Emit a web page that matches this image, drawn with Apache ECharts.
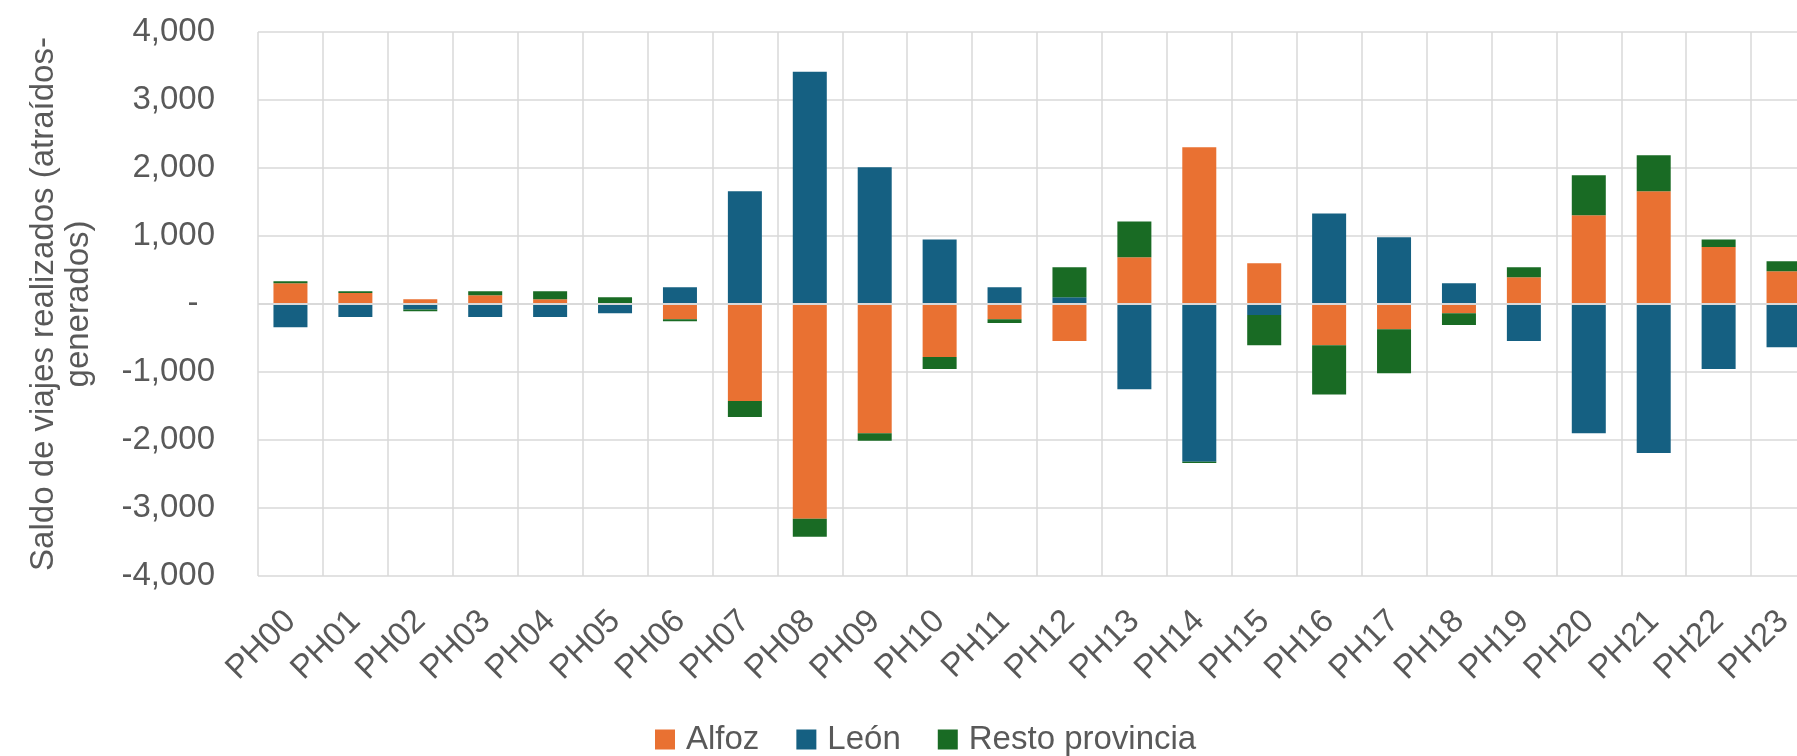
<!DOCTYPE html>
<html>
<head>
<meta charset="utf-8">
<title>Saldo de viajes realizados por franja horaria</title>
<script src="https://cdn.jsdelivr.net/npm/echarts@6/dist/echarts.min.js"></script>
<style>
  html, body { margin: 0; padding: 0; background: #ffffff; }
  #chart { width: 1797px; height: 756px; }
</style>
</head>
<body>
<div id="chart"></div>
<script>
// Franjas horarias
const categories = ['PH00', 'PH01', 'PH02', 'PH03', 'PH04', 'PH05', 'PH06', 'PH07', 'PH08', 'PH09', 'PH10', 'PH11',
                    'PH12', 'PH13', 'PH14', 'PH15', 'PH16', 'PH17', 'PH18', 'PH19', 'PH20', 'PH21', 'PH22', 'PH23'];

// Saldo (atraídos - generados) por origen/destino
const alfoz = [304, 160, 70, 128, 70, 0, -225, -1427, -3158, -1900, -781, -225,
               -545, 686, 2304, 601, -607, -371, -135, 393, 1304, 1658, 837, 483];
const leon = [-343, -193, -80, -193, -193, -136, 246, 1658, 3417, 2012, 950, 247,
              101, -1253, -2321, -163, 1332, 982, 304, -545, -1900, -2192, -955, -635];
const restoProvincia = [30, 28, -27, 60, 118, 99, -29, -236, -265, -112, -174, -56,
                        439, 528, -17, -444, -725, -646, -174, 147, 590, 528, 113, 146];

const seriesNames = ['Alfoz', 'León', 'Resto provincia'];
const yTicks = { min: -4000, max: 4000, step: 1000 };

const FONT = '"Liberation Sans", Arial, sans-serif';
const FONT_SIZE = 33;
const TEXT = '#595959';
const GRID = '#d9d9d9';
const COLORS = ['#E97132', '#156082', '#196B24'];

function fmtTick(v) {
  if (v === 0) return '-\u2002';
  const s = Math.abs(v).toString().replace(/\B(?=(\d{3})+(?!\d))/g, ',');
  return (v < 0 ? '-' : '') + s;
}

const chart = echarts.init(document.getElementById('chart'), null, { renderer: 'canvas' });

const values = [alfoz, leon, restoProvincia];
const series = seriesNames.map((name, i) => {
  const s = {
    name: name,
    type: 'bar',
    stack: 'saldo',
    barWidth: 34,
    data: values[i],
    itemStyle: { color: COLORS[i] },
    emphasis: { disabled: true }
  };
  if (i === values.length - 1) {
    // horizontal axis line at zero, drawn over the bars
    s.markLine = {
      silent: true,
      symbol: ['none', 'none'],
      label: { show: false },
      lineStyle: { color: GRID, width: 2, type: 'solid' },
      data: [{ yAxis: 0 }]
    };
  }
  return s;
});

chart.setOption({
  animation: false,
  backgroundColor: '#ffffff',
  color: COLORS,
  textStyle: { fontFamily: FONT },
  grid: {
    left: 258, right: -19, top: 32, bottom: 180,
    containLabel: false,
    outerBoundsMode: 'none'
  },
  legend: {
    data: seriesNames,
    left: 655,
    top: 723,
    padding: 0,
    itemWidth: 20,
    itemHeight: 20,
    itemGap: 37,
    icon: 'rect',
    textStyle: { color: TEXT, fontSize: FONT_SIZE, fontFamily: FONT, lineHeight: 33, padding: [0, 0, 0, 6] }
  },
  xAxis: {
    type: 'category',
    data: categories,
    axisLine: { show: false, onZero: false },
    axisTick: { show: false },
    splitLine: { show: true, interval: 0, lineStyle: { color: GRID, width: 1.5 } },
    axisLabel: {
      interval: 0,
      rotate: 45,
      margin: 40,
      color: TEXT,
      fontSize: FONT_SIZE,
      fontFamily: FONT
    }
  },
  yAxis: {
    type: 'value',
    min: yTicks.min,
    max: yTicks.max,
    interval: yTicks.step,
    name: 'Saldo de viajes realizados (atraídos-\ngenerados)',
    nameLocation: 'middle',
    nameRotate: 90,
    nameGap: 162,
    nameTextStyle: { color: TEXT, fontSize: FONT_SIZE, fontFamily: FONT, lineHeight: 35 },
    axisLine: { show: false },
    axisTick: { show: false },
    splitLine: { show: true, lineStyle: { color: GRID, width: 1.5 } },
    axisLabel: {
      margin: 43,
      color: TEXT,
      fontSize: FONT_SIZE,
      fontFamily: FONT,
      formatter: fmtTick
    }
  },
  series: series
});
</script>
</body>
</html>
